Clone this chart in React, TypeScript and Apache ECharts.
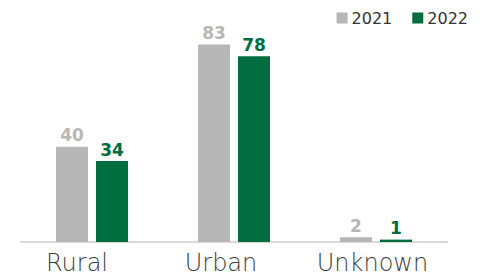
import React, { useEffect, useRef } from "react";
import * as echarts from "echarts";

const categories = ["Rural", "Urban", "Unknown"];
const values2021 = [40, 83, 2];
const values2022 = [34, 78, 1];
const seriesNames = ["2021", "2022"];

// right padding applied to each category label (visual nudge, as in the reference)
const labelNudge = [30, 26, 7];

export default function App() {
  const ref = useRef<HTMLDivElement>(null);
  useEffect(() => {
    const chart = echarts.init(ref.current!, undefined, { renderer: "svg" });
    const labelStyle = (color: string) => ({
      show: true,
      position: "top" as const,
      distance: 3,
      color,
      fontSize: 17,
      fontWeight: "bold",
      fontFamily: "DejaVu Sans",
    });
    chart.setOption({
      animation: false,
      legend: {
        top: 5,
        right: 21,
        itemWidth: 11,
        itemHeight: 11,
        itemGap: 20,
        icon: "rect",
        textStyle: { fontSize: 16, color: "#333", fontFamily: "DejaVu Sans", padding: [0, 0, 0, -1] },
        data: seriesNames,
      },
      grid: { left: 21, right: 47, top: 4, bottom: 37, containLabel: false },
      xAxis: {
        type: "category",
        data: categories.map((c, i) => ({ value: c, textStyle: { padding: [0, labelNudge[i], 0, 0] } })),
        axisLine: { lineStyle: { color: "#d9d9d9", width: 2 } },
        axisTick: { show: false },
        axisLabel: {
          interval: 0,
          hideOverlap: false,
          fontSize: 24,
          color: "#404040",
          margin: 9,
          fontFamily: "DejaVu Sans",
          fontWeight: 200,
        },
      },
      yAxis: { type: "value", min: 0, max: 100, show: false, splitLine: { show: false } },
      series: [
        {
          name: seriesNames[0],
          type: "bar",
          data: values2021,
          barWidth: 32,
          barGap: "25%",
          itemStyle: { color: "#b7b7b7" },
          label: labelStyle("#b7b7b7"),
        },
        {
          name: seriesNames[1],
          type: "bar",
          data: values2022,
          barWidth: 32,
          itemStyle: { color: "#006d3f" },
          label: labelStyle("#006d3f"),
        },
      ],
    });
    return () => chart.dispose();
  }, []);
  return <div ref={ref} style={{ width: 494, height: 279, position: "absolute", left: 0, top: 0 }} />;
}
